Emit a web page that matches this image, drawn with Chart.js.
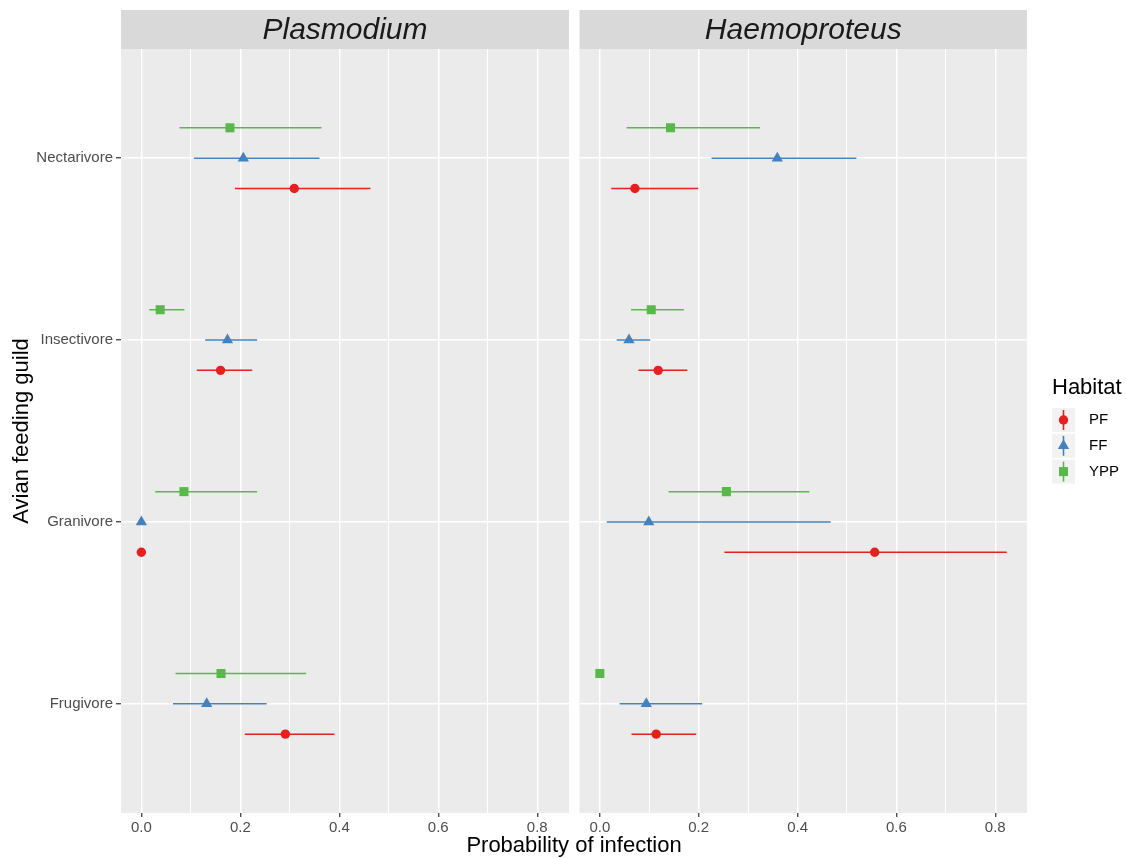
<!DOCTYPE html>
<html>
<head>
<meta charset="utf-8">
<script src="https://cdn.jsdelivr.net/npm/chart.js@4.4.0/dist/chart.umd.min.js"></script>
<style>
  html, body { margin: 0; padding: 0; background: #fff; }
  #wrap { position: relative; width: 1126px; height: 858px; }
  canvas { position: absolute; top: 0; }
</style>
</head>
<body>
<div id="wrap">
  <canvas id="plasChart" width="1126" height="858" style="left:0;width:1126px;height:858px"></canvas>
  <canvas id="haemChart" width="553" height="858" style="left:573px;width:553px;height:858px"></canvas>
</div>
<script>
// categories, bottom to top
const guilds = ['Frugivore', 'Granivore', 'Insectivore', 'Nectarivore'];
const habitats = ['PF', 'FF', 'YPP'];
const xTicks = [0, 0.1, 0.2, 0.3, 0.4, 0.5, 0.6, 0.7, 0.8];

// Plasmodium: estimate, lower and upper limit per guild (null = no interval)
const plasPF = [0.291, 0, 0.160, 0.309];
const plasPFLow = [0.209, null, 0.112, 0.189];
const plasPFHigh = [0.390, null, 0.224, 0.463];
const plasFF = [0.132, 0, 0.174, 0.206];
const plasFFLow = [0.064, null, 0.129, 0.106];
const plasFFHigh = [0.253, null, 0.234, 0.360];
const plasYPP = [0.161, 0.086, 0.038, 0.179];
const plasYPPLow = [0.069, 0.028, 0.016, 0.077];
const plasYPPHigh = [0.333, 0.234, 0.087, 0.364];

// Haemoproteus
const haemPF = [0.114, 0.556, 0.118, 0.071];
const haemPFLow = [0.064, 0.252, 0.078, 0.023];
const haemPFHigh = [0.195, 0.823, 0.177, 0.199];
const haemFF = [0.094, 0.099, 0.059, 0.359];
const haemFFLow = [0.040, 0.014, 0.034, 0.226];
const haemFFHigh = [0.207, 0.467, 0.102, 0.519];
const haemYPP = [0, 0.256, 0.104, 0.143];
const haemYPPLow = [null, 0.139, 0.063, 0.054];
const haemYPPHigh = [null, 0.424, 0.170, 0.324];

const colors = ['#E6201F', '#4382BE', '#58B94A'];
const shapes = ['circle', 'triangle', 'rect'];
const radii = [4.7, 6.5, 6.4];
const dodge = [-1 / 6, 0, 1 / 6];
const FONT = '"Liberation Sans", Arial, Helvetica, sans-serif';

// ggplot style 5% expansion of the x range
const allHigh = [].concat(plasPFHigh, plasFFHigh, plasYPPHigh, haemPFHigh, haemFFHigh, haemYPPHigh).filter(v => v != null);
const xSpan = Math.max(...allHigh);
const xMin = -0.05 * xSpan;
const xMax = xSpan + 0.05 * xSpan;

function buildDatasets(est, low, high) {
  const sets = [];
  habitats.forEach((h, k) => {
    const bars = [];
    guilds.forEach((g, i) => {
      if (low[k][i] == null) return;
      const y = i + 1 + dodge[k];
      bars.push({x: low[k][i], y: y}, {x: high[k][i], y: y}, {x: high[k][i], y: null});
    });
    sets.push({
      type: 'line', label: h + ' interval', data: bars,
      borderColor: colors[k], borderWidth: 1.5, pointRadius: 0,
      spanGaps: false, fill: false, order: 2
    });
    sets.push({
      type: 'scatter', label: h,
      data: est[k].map((v, i) => ({x: v, y: i + 1 + dodge[k]})),
      pointStyle: shapes[k], pointRadius: radii[k],
      backgroundColor: colors[k], borderColor: colors[k], borderWidth: 0, order: 1
    });
  });
  return sets;
}

const isMajor = c => c.tick && Math.round(c.tick.value * 10) % 2 === 0;

function makeScales(first) {
  return {
    x: {
      type: 'linear', min: xMin, max: xMax,
      afterBuildTicks: s => { s.ticks = xTicks.map(v => ({value: v})); },
      afterFit: s => { s.height = 45; },
      border: {display: false},
      grid: {
        color: '#FFFFFF',
        lineWidth: c => isMajor(c) ? 1.5 : 1,
        tickColor: c => isMajor(c) ? '#333333' : 'rgba(0,0,0,0)',
        tickLength: 4, tickWidth: 1.2
      },
      ticks: {
        color: '#4D4D4D', font: {family: FONT, size: 15}, padding: 2,
        maxRotation: 0, autoSkip: false,
        callback: v => Math.round(v * 10) % 2 === 0 ? v.toFixed(1) : ''
      }
    },
    y: {
      type: 'linear', min: 0.4, max: guilds.length + 0.6,
      afterBuildTicks: s => { s.ticks = guilds.map((g, i) => ({value: i + 1})); },
      afterFit: s => { s.width = first ? 121 : 5; },
      border: {display: false},
      grid: {color: '#FFFFFF', lineWidth: 1.5, drawTicks: first, tickColor: '#333333', tickLength: 5, tickWidth: 1.2},
      ticks: {
        display: first, color: '#4D4D4D', font: {family: FONT, size: 15}, padding: 3,
        callback: v => guilds[Math.round(v) - 1]
      },
      title: {
        display: first, text: 'Avian feeding guild', color: '#000000',
        font: {family: FONT, size: 22}, padding: {top: 9, bottom: 0}
      }
    }
  };
}

// grey panel and facet strip
const panelPlugin = {
  id: 'panel',
  beforeDraw(chart, args, opts) {
    const {ctx, chartArea: a} = chart;
    ctx.save();
    ctx.fillStyle = '#EBEBEB';
    ctx.fillRect(a.left, a.top, a.right - a.left, a.bottom - a.top);
    ctx.fillStyle = '#D9D9D9';
    ctx.fillRect(a.left, 10, a.right - a.left, a.top - 10);
    ctx.fillStyle = '#1A1A1A';
    ctx.font = 'italic 30px ' + FONT;
    ctx.textAlign = 'center';
    ctx.textBaseline = 'middle';
    ctx.fillText(opts.strip, (a.left + a.right) / 2, (10 + a.top) / 2 + 1);
    ctx.restore();
  }
};

function drawShape(ctx, k, x, y) {
  ctx.fillStyle = colors[k];
  if (Chart.helpers && Chart.helpers.drawPoint) {
    Chart.helpers.drawPoint(ctx, {pointStyle: shapes[k], radius: radii[k], rotation: 0, borderWidth: 0}, x, y);
  } else {
    ctx.beginPath();
    ctx.arc(x, y, radii[k], 0, Math.PI * 2);
    ctx.fill();
  }
}

// shared x title and the Habitat legend
const outerPlugin = {
  id: 'outer',
  afterDraw(chart) {
    const ctx = chart.ctx;
    ctx.save();
    ctx.fillStyle = '#000000';
    ctx.font = '22px ' + FONT;
    ctx.textAlign = 'center';
    ctx.textBaseline = 'middle';
    ctx.fillText('Probability of infection', 574, 846);

    ctx.textAlign = 'left';
    ctx.textBaseline = 'alphabetic';
    ctx.fillText('Habitat', 1052, 394);
    ctx.font = '15px ' + FONT;
    ctx.textBaseline = 'middle';
    habitats.forEach((h, k) => {
      const top = 408 + k * 25.8;
      const cy = top + 12;
      ctx.fillStyle = '#F2F2F2';
      ctx.fillRect(1052, top, 23, 24);
      ctx.strokeStyle = colors[k];
      ctx.lineWidth = 1.6;
      ctx.beginPath();
      ctx.moveTo(1063.5, top + 2);
      ctx.lineTo(1063.5, top + 22);
      ctx.stroke();
      drawShape(ctx, k, 1063.5, cy);
      ctx.fillStyle = '#000000';
      ctx.fillText(h, 1089, cy);
    });
    ctx.restore();
  }
};

const common = {
  responsive: false,
  animation: false,
  events: [],
  plugins: {legend: {display: false}, tooltip: {enabled: false}}
};

new Chart(document.getElementById('plasChart'), {
  type: 'scatter',
  data: {datasets: buildDatasets([plasPF, plasFF, plasYPP], [plasPFLow, plasFFLow, plasYPPLow], [plasPFHigh, plasFFHigh, plasYPPHigh])},
  options: Object.assign({}, common, {
    layout: {padding: {left: 0, right: 557, top: 49, bottom: 0}},
    scales: makeScales(true),
    plugins: Object.assign({}, common.plugins, {panel: {strip: 'Plasmodium'}})
  }),
  plugins: [panelPlugin, outerPlugin]
});

new Chart(document.getElementById('haemChart'), {
  type: 'scatter',
  data: {datasets: buildDatasets([haemPF, haemFF, haemYPP], [haemPFLow, haemFFLow, haemYPPLow], [haemPFHigh, haemFFHigh, haemYPPHigh])},
  options: Object.assign({}, common, {
    layout: {padding: {left: 0, right: 99, top: 49, bottom: 0}},
    scales: makeScales(false),
    plugins: Object.assign({}, common.plugins, {panel: {strip: 'Haemoproteus'}})
  }),
  plugins: [panelPlugin]
});
</script>
</body>
</html>
